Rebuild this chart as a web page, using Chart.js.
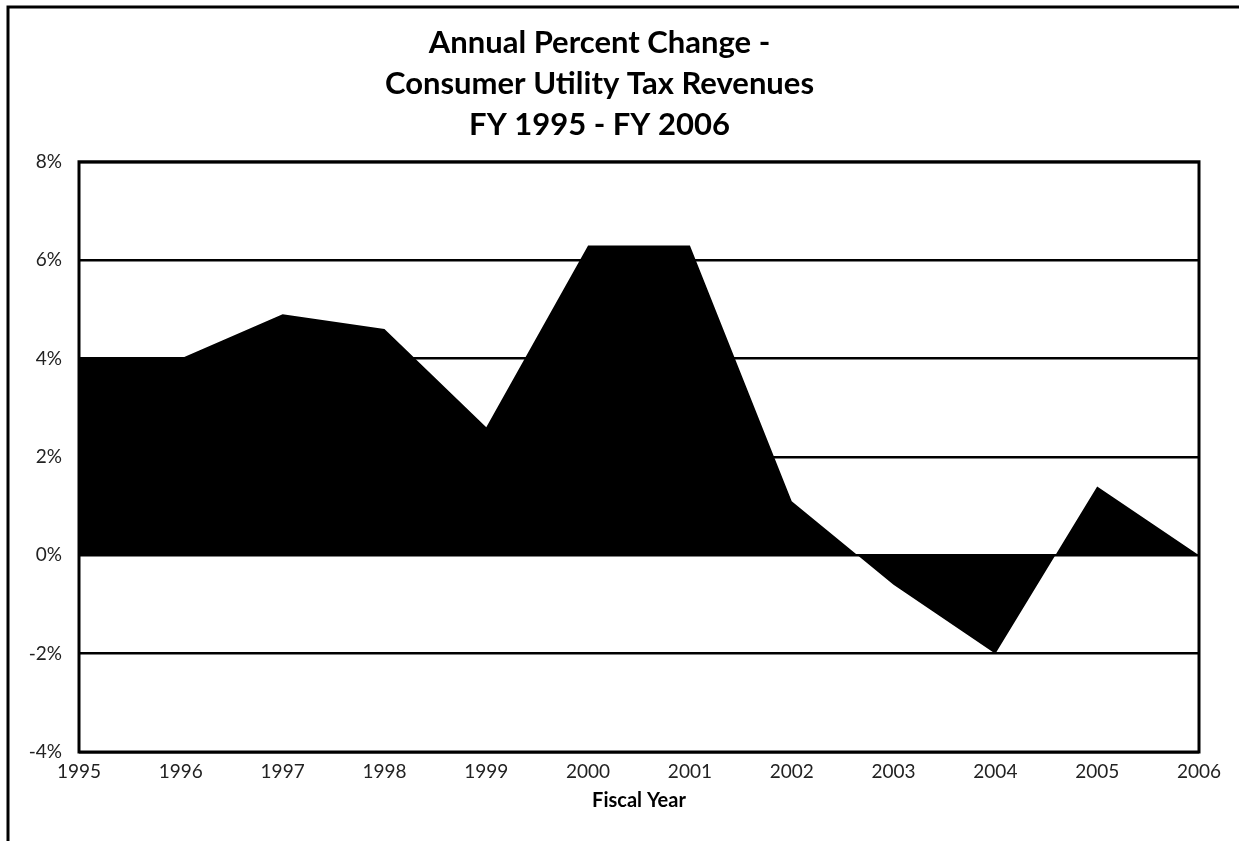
<!DOCTYPE html>
<html>
<head>
<meta charset="utf-8">
<script src="https://cdn.jsdelivr.net/npm/chart.js@4/dist/chart.umd.min.js"></script>
<style>
  html,body{margin:0;padding:0;background:#fff;}
  #wrap{width:1239px;height:841px;position:relative;}
</style>
</head>
<body>
<div id="wrap"><canvas id="chart" width="1239" height="841"></canvas></div>
<script>
/* data */
const years   = ['1995','1996','1997','1998','1999','2000','2001','2002','2003','2004','2005','2006'];
const pctChg  = [4.0, 4.0, 4.9, 4.6, 2.6, 6.3, 6.3, 1.1, -0.6, -2.0, 1.4, 0.0];
const yTicks  = [-4, -2, 0, 2, 4, 6, 8];
const titleLines = ['Annual Percent Change -', 'Consumer Utility Tax Revenues', 'FY 1995 - FY 2006'];

const FONT = 'Lato, "Open Sans", sans-serif';

/* outer frame (top + left) and plot border */
const frames = {
  id:'frames',
  afterDatasetsDraw(c){
    const ctx=c.ctx, a=c.chartArea;
    ctx.save();
    ctx.strokeStyle='#000'; ctx.lineWidth=3;
    ctx.strokeRect(a.left, a.top, a.right-a.left, a.bottom-a.top);
    ctx.beginPath();
    ctx.moveTo(8, 841); ctx.lineTo(8, 7); ctx.lineTo(1239, 7);
    ctx.stroke();
    ctx.restore();
  }
};

new Chart(document.getElementById('chart'),{
  type:'line',
  data:{
    labels:years,
    datasets:[{data:pctChg, fill:'origin', backgroundColor:'#000', borderColor:'#000', borderWidth:0, pointRadius:0, tension:0}]
  },
  options:{
    responsive:false, animation:false,
    layout:{padding:{left:0, right:40, top:0, bottom:0}},
    plugins:{
      legend:{display:false}, tooltip:{enabled:false},
      title:{display:true, text:titleLines, color:'#000',
        font:{family:FONT, size:31, weight:'bold', lineHeight:1.32},
        padding:{top:23, bottom:16}}
    },
    scales:{
      x:{
        offset:false,
        grid:{display:false, drawTicks:false},
        border:{display:false},
        ticks:{color:'#222', font:{family:FONT, size:19}, padding:8, maxRotation:0, autoSkip:false},
        title:{display:true, text:'Fiscal Year', color:'#000', font:{family:FONT, size:20, weight:'bold'}, padding:{top:0, bottom:28}},
        afterFit:s=>{ s.height = 89; }
      },
      y:{
        min:-4, max:8,
        afterBuildTicks:s=>{ s.ticks = yTicks.map(v=>({value:v})); },
        grid:{color:'#000', lineWidth:2.5, drawTicks:false},
        border:{display:false},
        ticks:{color:'#222', font:{family:FONT, size:19}, padding:17, callback:v=>v+'%'},
        afterFit:s=>{ s.width = 79; }
      }
    }
  },
  plugins:[frames]
});
</script>
</body>
</html>
